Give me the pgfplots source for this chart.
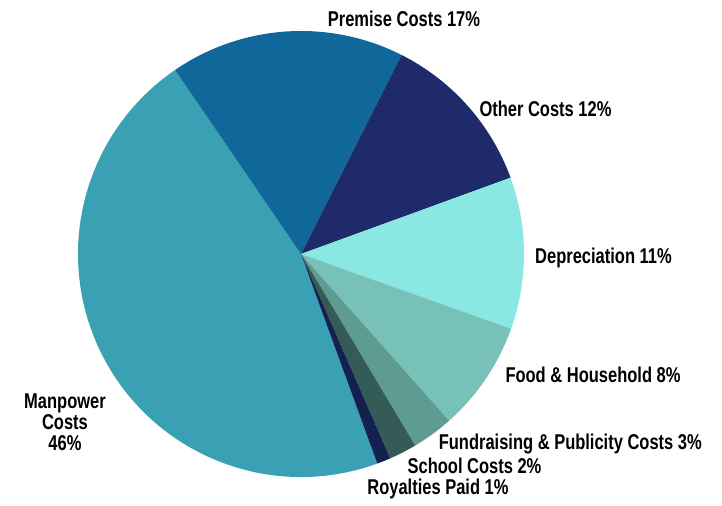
\documentclass[border=0pt]{standalone}
\usepackage{fontspec}
\setmainfont{Liberation Sans}[FakeStretch=0.77]
\usepackage{pgfplots}
\usepackage{pgfplotstable}
\pgfplotsset{compat=1.18}

\definecolor{cMan}{HTML}{3AA1B5}
\definecolor{cPrem}{HTML}{106799}
\definecolor{cOther}{HTML}{1E2A6A}
\definecolor{cDep}{HTML}{8AE8E3}
\definecolor{cFood}{HTML}{77C1B9}
\definecolor{cFund}{HTML}{5E9C92}
\definecolor{cSchool}{HTML}{355B59}
\definecolor{cRoy}{HTML}{14204E}

\tikzset{lbl/.style={font=\bfseries\fontsize{21.5}{21.5}\selectfont, inner sep=0pt, anchor=base}}

% shares in percent, clockwise from the Manpower slice
\pgfplotstableread{
value color
46 cMan
17 cPrem
12 cOther
11 cDep
8 cFood
3 cFund
2 cSchool
1 cRoy
}\piedata

\begin{document}
\begin{tikzpicture}
\begin{axis}[
    x=1bp, y=1bp,
    xmin=-301, xmax=421,
    ymin=-246, ymax=254,
    hide axis,
    clip=false
]
\path (axis cs:-301,-246) rectangle (axis cs:421,254);
\pgfplotstablegetrowsof{\piedata}
\pgfmathtruncatemacro{\nrows}{\pgfplotsretval-1}
\def\angstart{-70}
\pgfplotsforeachungrouped \i in {0,...,\nrows}{
  \pgfplotstablegetelem{\i}{value}\of{\piedata}
  \pgfmathsetmacro{\angend}{\angstart-3.6*\pgfplotsretval}
  \pgfplotstablegetelem{\i}{color}\of{\piedata}
  \edef\temp{\noexpand\fill[\pgfplotsretval] (axis cs:0,0) -- ++(\angstart:223bp)
    arc[start angle=\angstart, end angle=\angend, radius=223bp] -- cycle;}
  \temp
  \let\angstart\angend
}

\node[lbl] at (axis cs:103,227) {Premise Costs 17\%};
\node[lbl] at (axis cs:244.5,137) {Other Costs 12\%};
\node[lbl] at (axis cs:302.5,-9.3) {Depreciation 11\%};
\node[lbl] at (axis cs:292,-128.7) {Food \& Household 8\%};
\node[lbl] at (axis cs:269.3,-196) {Fundraising \& Publicity Costs 3\%};
\node[lbl] at (axis cs:173.5,-219.3) {School Costs 2\%};
\node[lbl] at (axis cs:137,-241) {Royalties Paid 1\%};
\node[lbl] at (axis cs:-236,-154.3) {Manpower};
\node[lbl] at (axis cs:-236,-176) {Costs};
\node[lbl] at (axis cs:-236,-197) {46\%};
\end{axis}
\end{tikzpicture}
\end{document}
